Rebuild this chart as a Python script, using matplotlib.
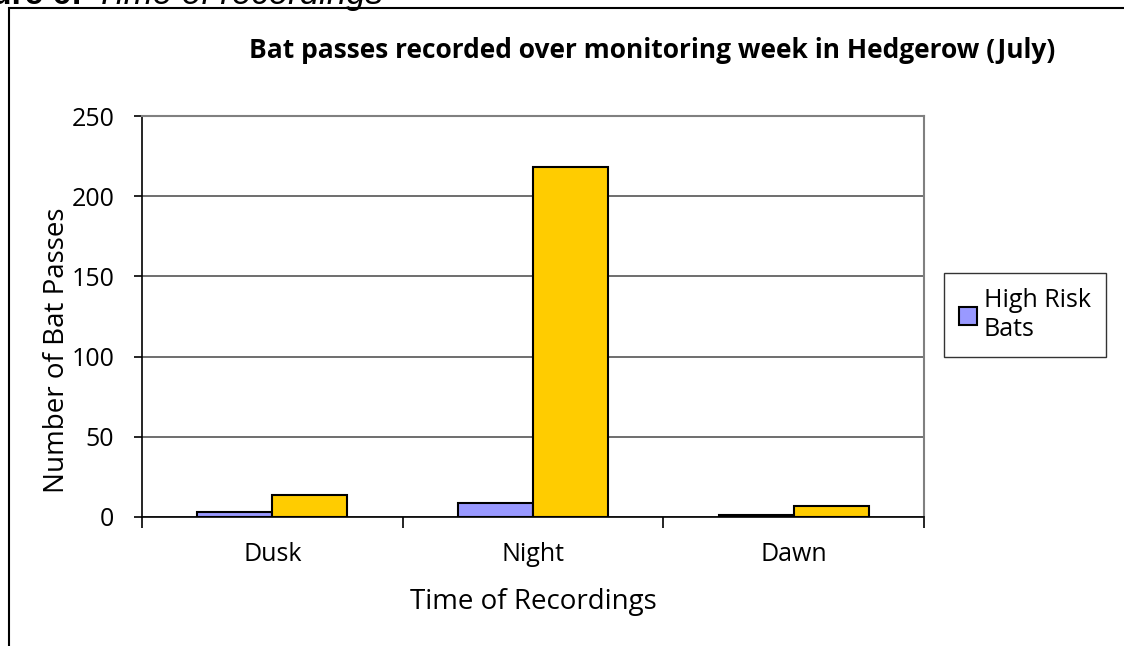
import matplotlib.pyplot as plt
import numpy as np
from matplotlib.patches import Rectangle

categories = ["Dusk", "Night", "Dawn"]
high_risk = [3, 9, 1]
other_bats = [14, 218, 7]
yticks = [0, 50, 100, 150, 200, 250]

W, H = 1124, 646
FONT = "Open Sans"
fig = plt.figure(figsize=(W / 100, H / 100), dpi=100)

# outer frame (runs off the right and bottom edges)
fig.add_artist(Rectangle((9 / W, -0.1), 1.2, 1 - 8 / H + 0.1, transform=fig.transFigure,
                         fill=False, edgecolor="black", linewidth=1.5))

# caption cut off at the top of the image
fig.text(82 / W, 1 - 4 / H, "Figure 6:", fontsize=24, fontweight="bold",
         family="Liberation Sans", va="baseline", ha="right")
fig.text(95 / W, 1 - 4 / H, "Time of recordings", fontsize=25, style="italic",
         family="Liberation Sans", va="baseline", ha="left")

ax = fig.add_axes([142 / W, 1 - 517 / H, (924 - 142) / W, (517 - 116) / H])

x = np.arange(len(categories))
bw = 0.288
ax.bar(x - bw / 2, high_risk, bw, color="#9999FF", edgecolor="black", linewidth=1.5,
       label="High Risk\nBats", zorder=3)
ax.bar(x + bw / 2, other_bats, bw, color="#FFCC00", edgecolor="black", linewidth=1.5,
       zorder=3)

ax.set_xlim(-0.5, 2.5)
ax.set_ylim(0, 250)
ax.set_yticks(yticks)
ax.set_yticklabels([str(v) for v in yticks], fontsize=18, family=FONT)
ax.yaxis.grid(True, color="#555555", linewidth=1.2, zorder=0)

ax.set_xticks([-0.5, 0.5, 1.5, 2.5])
ax.set_xticklabels([])
ax.set_xticks(x, minor=True)
ax.set_xticklabels(categories, minor=True, fontsize=18, family=FONT)
ax.tick_params(axis="x", which="minor", length=0, pad=18)
ax.tick_params(axis="x", which="major", length=8, width=1.2, direction="out")
ax.tick_params(axis="y", length=6, width=1.2, direction="out", pad=14)

for s in ["top", "right"]:
    ax.spines[s].set_color("#808080")
    ax.spines[s].set_linewidth(1.5)
ax.spines["left"].set_linewidth(1.2)
ax.spines["bottom"].set_linewidth(1.2)

ax.set_xlabel("Time of Recordings", fontsize=20, family=FONT)
ax.xaxis.set_label_coords(0.5, (517 - 602) / 401, transform=ax.transAxes)
ax.xaxis.label.set_va("center")
ax.set_ylabel("Number of Bat Passes", fontsize=20, family=FONT)
ax.yaxis.set_label_coords((57 - 142) / 782, (517 - 350) / 401, transform=ax.transAxes)
ax.yaxis.label.set_va("center")

fig.text(652 / W, 1 - 50 / H, "Bat passes recorded over monitoring week in Hedgerow (July)",
         fontsize=19, fontweight="bold", family=FONT, ha="center", va="center")

leg = ax.legend(loc="center left", bbox_to_anchor=(944 / W, 1 - 315 / H),
                bbox_transform=fig.transFigure, prop={"family": FONT, "size": 18},
                frameon=True, fancybox=False, edgecolor="black", handlelength=0.7,
                handleheight=0.7, handletextpad=0.3, borderpad=0.6, borderaxespad=0)
leg.get_frame().set_linewidth(1.0)

fig.savefig("out.png", dpi=100)
